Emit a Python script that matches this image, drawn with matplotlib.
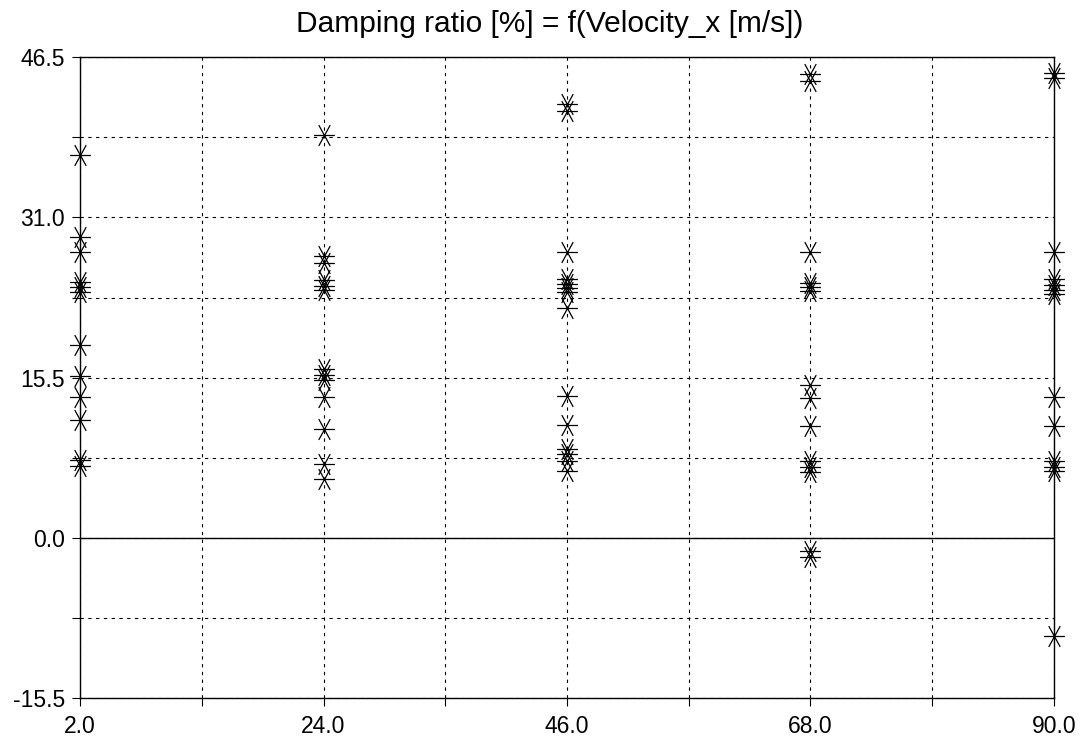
import numpy as np
import matplotlib.pyplot as plt
from matplotlib.path import Path

plt.rcParams['font.family'] = ['Liberation Sans', 'DejaVu Sans']

# velocities [m/s]
velocity = [2.0, 24.0, 46.0, 68.0, 90.0]

# damping ratio [%] of each mode, read per velocity
damp_v2 = [37.0, 29.1, 27.7, 24.8, 24.3, 23.8, 18.7, 15.7, 13.6, 11.4, 7.5, 7.0]
damp_v24 = [39.0, 27.3, 26.6, 24.9, 24.4, 24.0, 16.3, 15.8, 15.3, 13.6, 10.5, 7.2, 5.7]
damp_v46 = [42.0, 41.3, 27.7, 25.0, 24.6, 24.2, 23.8, 22.2, 13.7, 10.9, 8.6, 8.1, 7.4, 6.5]
damp_v68 = [44.9, 44.2, 27.7, 24.7, 24.3, 23.9, 14.8, 13.5, 10.8, 7.4, 6.9, 6.4, -1.3, -1.8]
damp_v90 = [45.0, 44.5, 27.7, 25.0, 24.5, 24.0, 23.6, 13.6, 10.8, 7.4, 6.9, 6.5, -9.5]

all_damp = [damp_v2, damp_v24, damp_v46, damp_v68, damp_v90]

xticks = [2.0, 13.0, 24.0, 35.0, 46.0, 57.0, 68.0, 79.0, 90.0]
yticks = [-15.5, -7.75, 0.0, 7.75, 15.5, 23.25, 31.0, 38.75, 46.5]

# asterisk marker: horizontal bar plus two steep diagonals
star = Path([(-1, 0), (1, 0), (-0.55, -1), (0.55, 1), (-0.55, 1), (0.55, -1)],
            [Path.MOVETO, Path.LINETO, Path.MOVETO, Path.LINETO, Path.MOVETO, Path.LINETO])

fig = plt.figure(figsize=(10.82, 7.42), dpi=100)
ax = fig.add_axes([0.074, 0.059, 0.900, 0.864])

for v, d in zip(velocity, all_damp):
    ax.plot([v] * len(d), d, linestyle='none', marker=star, markersize=15,
            markeredgewidth=0.9, color='black', markerfacecolor='none',
            clip_on=False, zorder=5)

ax.set_xlim(2, 90)
ax.set_ylim(-15.5, 46.5)
ax.set_xticks(xticks)
ax.set_yticks(yticks)
ax.set_xticklabels(['%.1f' % t if i % 2 == 0 else '' for i, t in enumerate(xticks)])
ax.set_yticklabels(['%.1f' % t if i % 2 == 0 else '' for i, t in enumerate(yticks)])
ax.tick_params(direction='out', length=6, width=0.8, labelsize=16.5, colors='black', pad=4)
ax.tick_params(axis='y', pad=5)
ax.tick_params(axis='x', pad=6)
ax.grid(True, linestyle=(0, (3, 4)), color='black', linewidth=0.8)
ax.axhline(0, color='black', linewidth=1.0)
for s in ax.spines.values():
    s.set_linewidth(1.0)
    s.set_color('black')

fig.text(0.508, 0.968, 'Damping ratio [%] = f(Velocity_x [m/s])', ha='center', va='center',
         fontsize=21.5)

fig.savefig('out.png', dpi=100)
